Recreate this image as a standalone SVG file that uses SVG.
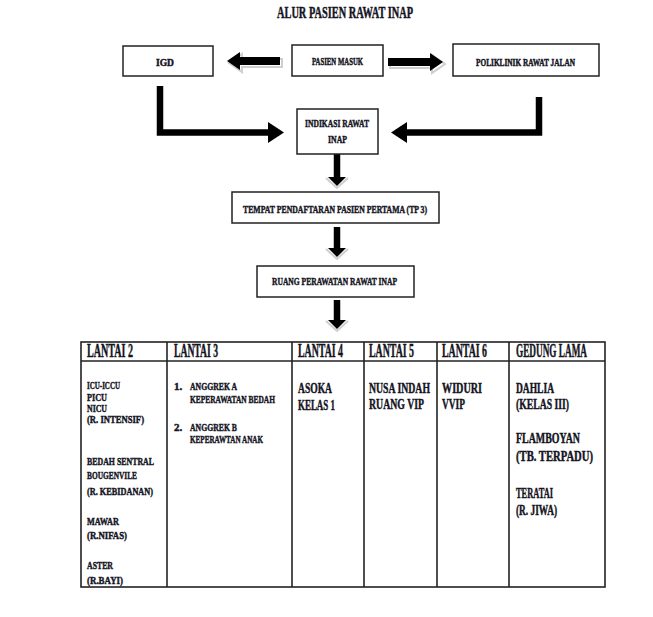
<svg xmlns="http://www.w3.org/2000/svg" width="653" height="617" viewBox="0 0 653 617">
<style>
text{font-family:"Liberation Serif","Times New Roman",serif;font-weight:bold;fill:#14141e;stroke:#14141e;stroke-width:0.45}
.box{fill:#fff;stroke:#222;stroke-width:1.5}
.tbl{fill:none;stroke:#222;stroke-width:1.6}
.shaft{fill:none;stroke:#000;stroke-width:6.5}
.head{fill:#000}
.shadow{fill:none;stroke:#cfcfcf;stroke-width:2}
.t10{font-size:10px}
.t11{font-size:11px}
.hd{font-size:18px}
.b2{font-size:11px}
.b3{font-size:11px}
.big{font-size:15px}
</style>
<rect width="653" height="617" fill="#fff"/>
<text x="277" y="18" font-size="16" textLength="136" lengthAdjust="spacingAndGlyphs">ALUR PASIEN RAWAT INAP</text>

<g id="connectors">
  <!-- PASIEN MASUK -> IGD -->
  <polygon class="shadow" transform="translate(2,2)" points="227,61 240,52 240,57 280,57 280,65 240,65 240,70"/>
  <polygon class="head" points="227,61 240,52 240,57 280,57 280,65 240,65 240,70"/>
  <!-- PASIEN MASUK -> POLIKLINIK -->
  <polygon class="shadow" transform="translate(2,2)" points="443,62 430,53 430,58 388,58 388,66 430,66 430,71"/>
  <polygon class="head" points="443,62 430,53 430,58 388,58 388,66 430,66 430,71"/>
  <!-- IGD -> INDIKASI -->
  <path class="shaft" d="M160 86 V132.5 H270"/>
  <polygon class="head" points="268,122 284,132.5 268,143"/>
  <!-- POLIKLINIK -> INDIKASI -->
  <path class="shaft" d="M539 97 V132.5 H405"/>
  <polygon class="head" points="407,122 391,132.5 407,143"/>
  <!-- down arrows -->
  <path class="shaft" d="M337 154 V178"/>
  <polyline class="shadow" points="326,178 337,188 348,178"/>
  <polygon class="head" points="328,177 346,177 337,186"/>
  <path class="shaft" d="M337 227 V248"/>
  <polyline class="shadow" points="326,249 337,259 348,249"/>
  <polygon class="head" points="328,248 346,248 337,257"/>
  <path class="shaft" d="M337 300 V320"/>
  <polyline class="shadow" points="326,321 337,331 348,321"/>
  <polygon class="head" points="328,320 346,320 337,329"/>
</g>

<g id="igd">
  <rect class="box" x="123" y="46" width="90" height="30"/>
  <text class="t10" x="156" y="66" textLength="18" lengthAdjust="spacingAndGlyphs">IGD</text>
</g>
<g id="pasien-masuk">
  <rect class="box" x="292" y="45" width="91" height="31"/>
  <text class="t10" x="312" y="65" textLength="51" lengthAdjust="spacingAndGlyphs">PASIEN MASUK</text>
</g>
<g id="poliklinik">
  <rect class="box" x="453" y="44" width="146" height="32"/>
  <text class="t10" x="476" y="66" textLength="99" lengthAdjust="spacingAndGlyphs">POLIKLINIK RAWAT JALAN</text>
</g>
<g id="indikasi">
  <rect class="box" x="297" y="109" width="81" height="45"/>
  <text class="t11" x="305" y="127" textLength="64" lengthAdjust="spacingAndGlyphs">INDIKASI RAWAT</text>
  <text class="t11" x="328" y="143" textLength="19" lengthAdjust="spacingAndGlyphs">INAP</text>
</g>
<g id="tp3">
  <rect class="box" x="232" y="192" width="207" height="31"/>
  <text class="t11" x="243" y="213" textLength="184" lengthAdjust="spacingAndGlyphs">TEMPAT PENDAFTARAN  PASIEN PERTAMA (TP 3)</text>
</g>
<g id="ruang">
  <rect class="box" x="257" y="266" width="157" height="31"/>
  <text class="t11" x="272" y="285" textLength="125" lengthAdjust="spacingAndGlyphs">RUANG PERAWATAN  RAWAT  INAP</text>
</g>

<g id="table">
  <rect class="tbl" x="81" y="342" width="524" height="245"/>
  <line class="tbl" x1="81" y1="361" x2="605" y2="361"/>
  <line class="tbl" x1="167" y1="342" x2="167" y2="587"/>
  <line class="tbl" x1="292" y1="342" x2="292" y2="587"/>
  <line class="tbl" x1="364" y1="342" x2="364" y2="587"/>
  <line class="tbl" x1="437" y1="342" x2="437" y2="587"/>
  <line class="tbl" x1="509" y1="342" x2="509" y2="587"/>
</g>

<g id="lantai2">
  <text class="hd" x="87" y="357" textLength="46" lengthAdjust="spacingAndGlyphs">LANTAI 2</text>
  <text class="b2" x="87" y="389" textLength="33" lengthAdjust="spacingAndGlyphs">ICU-ICCU</text>
  <text class="b2" x="87" y="400.5" textLength="20" lengthAdjust="spacingAndGlyphs">PICU</text>
  <text class="b2" x="87" y="411.5" textLength="20" lengthAdjust="spacingAndGlyphs">NICU</text>
  <text class="b2" x="87" y="423" textLength="57" lengthAdjust="spacingAndGlyphs">(R. INTENSIF)</text>
  <text class="b2" x="87" y="465" textLength="67" lengthAdjust="spacingAndGlyphs">BEDAH SENTRAL</text>
  <text class="b2" x="87" y="479" textLength="50" lengthAdjust="spacingAndGlyphs">BOUGENVILE</text>
  <text class="b2" x="87" y="495" textLength="66" lengthAdjust="spacingAndGlyphs">(R. KEBIDANAN)</text>
  <text class="b2" x="87" y="525" textLength="32" lengthAdjust="spacingAndGlyphs">MAWAR</text>
  <text class="b2" x="87" y="539" textLength="40" lengthAdjust="spacingAndGlyphs">(R.NIFAS)</text>
  <text class="b2" x="87" y="569" textLength="26" lengthAdjust="spacingAndGlyphs">ASTER</text>
  <text class="b2" x="87" y="584" textLength="36" lengthAdjust="spacingAndGlyphs">(R.BAYI)</text>
</g>
<g id="lantai3">
  <text class="hd" x="174" y="357" textLength="44" lengthAdjust="spacingAndGlyphs">LANTAI 3</text>
  <text class="b3" x="174" y="390">1.</text>
  <text class="b3" x="190" y="390" textLength="47" lengthAdjust="spacingAndGlyphs">ANGGREK A</text>
  <text class="b3" x="190" y="403" textLength="85" lengthAdjust="spacingAndGlyphs">KEPERAWATAN BEDAH</text>
  <text class="b3" x="174" y="431">2.</text>
  <text class="b3" x="190" y="431" textLength="47" lengthAdjust="spacingAndGlyphs">ANGGREK B</text>
  <text class="b3" x="190" y="443" textLength="73" lengthAdjust="spacingAndGlyphs">KEPERAWTAN ANAK</text>
</g>
<g id="lantai4">
  <text class="hd" x="298" y="357" textLength="45" lengthAdjust="spacingAndGlyphs">LANTAI 4</text>
  <text class="big" x="298" y="393" textLength="34" lengthAdjust="spacingAndGlyphs">ASOKA</text>
  <text class="big" x="298" y="410" textLength="37" lengthAdjust="spacingAndGlyphs">KELAS 1</text>
</g>
<g id="lantai5">
  <text class="hd" x="369" y="357" textLength="45" lengthAdjust="spacingAndGlyphs">LANTAI 5</text>
  <text class="big" x="369" y="393" textLength="61" lengthAdjust="spacingAndGlyphs">NUSA INDAH</text>
  <text class="big" x="369" y="409" textLength="55" lengthAdjust="spacingAndGlyphs">RUANG VIP</text>
</g>
<g id="lantai6">
  <text class="hd" x="442" y="357" textLength="45" lengthAdjust="spacingAndGlyphs">LANTAI 6</text>
  <text class="big" x="442" y="393" textLength="40" lengthAdjust="spacingAndGlyphs">WIDURI</text>
  <text class="big" x="442" y="409" textLength="23" lengthAdjust="spacingAndGlyphs">VVIP</text>
</g>
<g id="gedung-lama">
  <text class="hd" x="516" y="357" textLength="71" lengthAdjust="spacingAndGlyphs">GEDUNG LAMA</text>
  <text class="big" x="516" y="393" textLength="38" lengthAdjust="spacingAndGlyphs">DAHLIA</text>
  <text class="big" x="516" y="409" textLength="53" lengthAdjust="spacingAndGlyphs">(KELAS III)</text>
  <text class="big" x="516" y="443" textLength="64" lengthAdjust="spacingAndGlyphs">FLAMBOYAN</text>
  <text class="big" x="516" y="461" textLength="77" lengthAdjust="spacingAndGlyphs">(TB. TERPADU)</text>
  <text class="big" x="516" y="498" textLength="37" lengthAdjust="spacingAndGlyphs">TERATAI</text>
  <text class="big" x="516" y="515" textLength="41" lengthAdjust="spacingAndGlyphs">(R. JIWA)</text>
</g>
</svg>
